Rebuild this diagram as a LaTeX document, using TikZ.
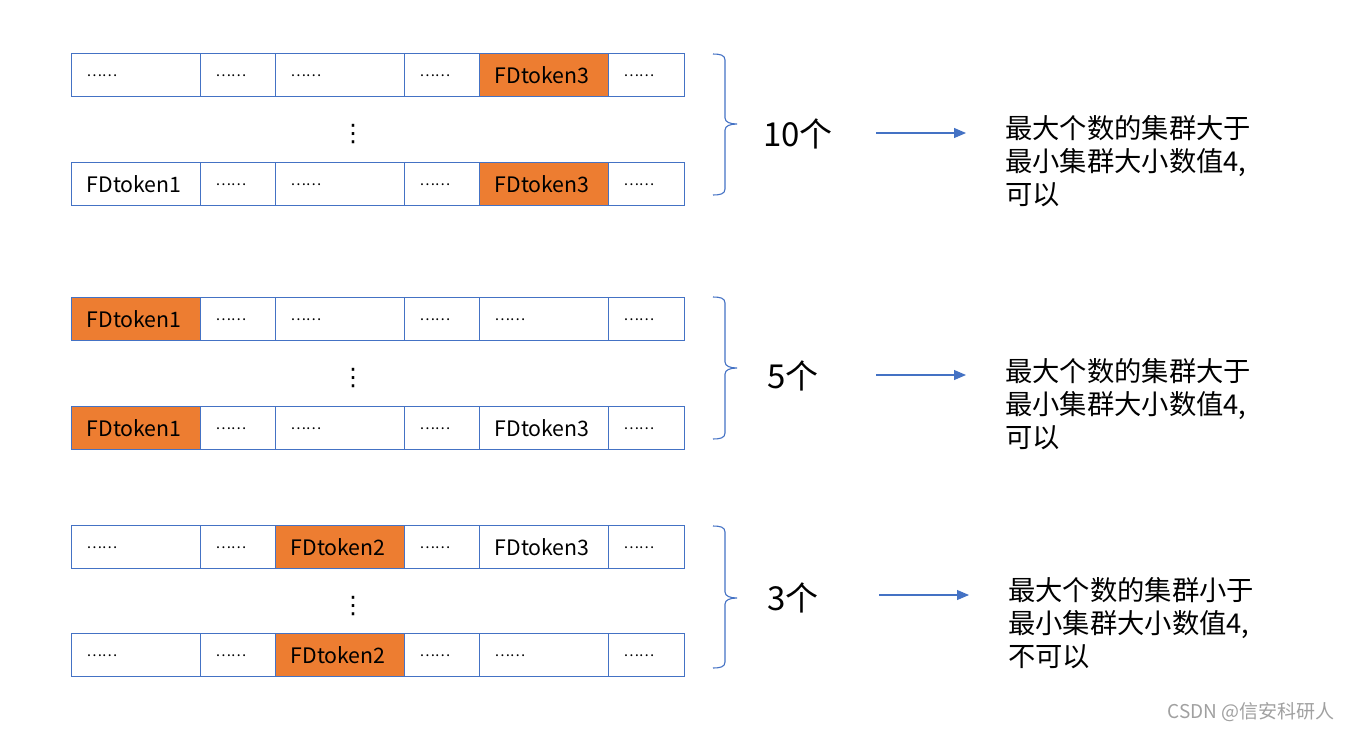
\documentclass[tikz,border=0pt]{standalone}
\usepackage{fontspec}
\setmainfont{Noto Sans CJK SC}
\newfontfamily\dvfont{DejaVu Sans}
\usetikzlibrary{arrows.meta}
\definecolor{bl}{HTML}{4472C4}
\definecolor{og}{HTML}{ED7D31}
\definecolor{wm}{HTML}{A0A0A0}
\newcommand\mydots{\raisebox{7.5pt}{\fontsize{14.5}{16}\selectfont ……}}
\tikzset{
  cellbox/.style={draw=bl, line width=1.2pt, anchor=north west, minimum height=43pt,
    inner xsep=15pt, inner ysep=0pt, text height=17pt, text depth=0pt, align=left,
    font=\fontsize{21.3}{25}\selectfont},
  hot/.style={fill=og},
  vdots/.style={font=\dvfont\fontsize{24}{26}\selectfont, inner sep=0pt},
  brace/.style={draw=bl, line width=1.1pt},
  count/.style={font=\fontsize{33}{36}\selectfont, inner sep=0pt},
  conn/.style={draw=bl, line width=1.1pt, -{Triangle[length=12pt,width=10pt]}},
  result/.style={font=\fontsize{27.3}{33}\selectfont, align=left, anchor=north west, inner sep=0pt},
}
\newcommand\mycell[6]{%
  \node[cellbox,#5,text width=#4pt-30pt] (#1) at (#2,#3) {#6};}
\begin{document}
\begin{tikzpicture}[x=1pt,y=-1pt]
\useasboundingbox (0,0) rectangle (1353,732);
% ---------- group 1 ----------
\mycell{a1}{71}{53}{129}{}{\mydots}
\mycell{a2}{200}{53}{75}{}{\mydots}
\mycell{a3}{275}{53}{129}{}{\mydots}
\mycell{a4}{404}{53}{75}{}{\mydots}
\mycell{a5}{479}{53}{129}{hot}{FDtoken3}
\mycell{a6}{608}{53}{76}{}{\mydots}
\node[vdots] (av) at (353,134) {⋮};
\mycell{b1}{71}{162}{129}{}{FDtoken1}
\mycell{b2}{200}{162}{75}{}{\mydots}
\mycell{b3}{275}{162}{129}{}{\mydots}
\mycell{b4}{404}{162}{75}{}{\mydots}
\mycell{b5}{479}{162}{129}{hot}{FDtoken3}
\mycell{b6}{608}{162}{76}{}{\mydots}
\draw[brace] (713,54) .. controls (720,54) and (725,55) .. (725,60) -- (725,118)
  .. controls (725,122) and (730,124) .. (737,124) .. controls (730,124) and (725,126) .. (725,130)
  -- (725,189) .. controls (725,194) and (720,195) .. (713,195);
\node[count] (n1) at (798,134) {10个};
\coordinate (s1) at (876,133);
\coordinate (e1) at (966,133);
\draw[conn] (s1) -- (e1);
\node[result] (r1) at (1005,115) {最大个数的集群大于\\最小集群大小数值4,\\可以};
% ---------- group 2 ----------
\mycell{c1}{71}{297}{129}{hot}{FDtoken1}
\mycell{c2}{200}{297}{75}{}{\mydots}
\mycell{c3}{275}{297}{129}{}{\mydots}
\mycell{c4}{404}{297}{75}{}{\mydots}
\mycell{c5}{479}{297}{129}{}{\mydots}
\mycell{c6}{608}{297}{76}{}{\mydots}
\node[vdots] (cv) at (353,378) {⋮};
\mycell{d1}{71}{406}{129}{hot}{FDtoken1}
\mycell{d2}{200}{406}{75}{}{\mydots}
\mycell{d3}{275}{406}{129}{}{\mydots}
\mycell{d4}{404}{406}{75}{}{\mydots}
\mycell{d5}{479}{406}{129}{}{FDtoken3}
\mycell{d6}{608}{406}{76}{}{\mydots}
\draw[brace] (713,297) .. controls (720,297) and (725,298) .. (725,303) -- (725,362)
  .. controls (725,366) and (730,368) .. (737,368) .. controls (730,368) and (725,370) .. (725,374)
  -- (725,433) .. controls (725,438) and (720,439) .. (713,439);
\node[count] (n2) at (793,376) {5个};
\coordinate (s2) at (876,375);
\coordinate (e2) at (966,375);
\draw[conn] (s2) -- (e2);
\node[result] (r2) at (1005,358) {最大个数的集群大于\\最小集群大小数值4,\\可以};
% ---------- group 3 ----------
\mycell{f1}{71}{525}{129}{}{\mydots}
\mycell{f2}{200}{525}{75}{}{\mydots}
\mycell{f3}{275}{525}{129}{hot}{FDtoken2}
\mycell{f4}{404}{525}{75}{}{\mydots}
\mycell{f5}{479}{525}{129}{}{FDtoken3}
\mycell{f6}{608}{525}{76}{}{\mydots}
\node[vdots] (fv) at (353,606) {⋮};
\mycell{g1}{71}{633}{129}{}{\mydots}
\mycell{g2}{200}{633}{75}{}{\mydots}
\mycell{g3}{275}{633}{129}{hot}{FDtoken2}
\mycell{g4}{404}{633}{75}{}{\mydots}
\mycell{g5}{479}{633}{129}{}{\mydots}
\mycell{g6}{608}{633}{76}{}{\mydots}
\draw[brace] (713,526) .. controls (720,526) and (725,527) .. (725,532) -- (725,592)
  .. controls (725,596) and (730,598) .. (737,598) .. controls (730,598) and (725,600) .. (725,604)
  -- (725,662) .. controls (725,667) and (720,668) .. (713,668);
\node[count] (n3) at (793,598) {3个};
\coordinate (s3) at (879,595);
\coordinate (e3) at (969,595);
\draw[conn] (s3) -- (e3);
\node[result] (r3) at (1008,577) {最大个数的集群小于\\最小集群大小数值4,\\不可以};
% watermark
\node[font=\fontsize{19}{22}\selectfont, text=wm, inner sep=0pt] (wmk) at (1251,712) {CSDN @信安科研人};
\end{tikzpicture}
\end{document}
